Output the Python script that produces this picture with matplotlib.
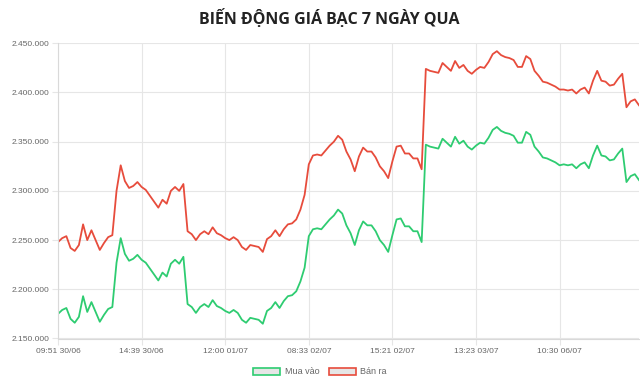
import matplotlib.pyplot as plt
from matplotlib.patches import Patch
from matplotlib.ticker import FuncFormatter

# Giá bạc 7 ngày (đồng/lượng)
ban_ra = [
    2248, 2252, 2254, 2242, 2239, 2245, 2266, 2250, 2260, 2250,
    2240, 2247, 2253, 2255, 2300, 2326, 2310, 2303, 2305, 2309,
    2304, 2301, 2295, 2289, 2283, 2291, 2287, 2300, 2304, 2300,
    2307, 2259, 2256, 2250, 2256, 2259, 2256, 2263, 2257, 2255,
    2252, 2250, 2253, 2250, 2243, 2240, 2245, 2244, 2243, 2238,
    2251, 2254, 2260, 2254, 2261, 2266, 2267, 2271, 2281, 2296,
    2327, 2336, 2337, 2336, 2341, 2346, 2350, 2356, 2352, 2340,
    2332, 2320, 2335, 2344, 2340, 2340, 2334, 2325, 2320, 2313,
    2330, 2345, 2346, 2338, 2338, 2333, 2333, 2322, 2424, 2422,
    2421, 2420, 2430, 2426, 2422, 2432, 2425, 2428, 2422, 2419,
    2423, 2426, 2425, 2431, 2439, 2442, 2438, 2436, 2435, 2433,
    2426, 2426, 2437, 2434, 2422, 2417, 2411, 2410, 2408, 2406,
    2403, 2403, 2402, 2403, 2399, 2403, 2405, 2399, 2412, 2422,
    2412, 2411, 2407, 2408, 2414, 2419, 2385, 2391, 2393, 2387,
]
mua_vao = [
    2175, 2179, 2181, 2170, 2166, 2172, 2193, 2177, 2187, 2177,
    2167, 2174, 2180, 2182, 2227, 2252, 2236, 2229, 2231, 2235,
    2230, 2227, 2221, 2215, 2209, 2217, 2213, 2226, 2230, 2226,
    2233, 2185, 2182, 2176, 2182, 2185, 2182, 2189, 2183, 2181,
    2178, 2176, 2179, 2176, 2169, 2166, 2171, 2170, 2169, 2165,
    2178, 2181, 2187, 2181, 2188, 2193, 2194, 2198, 2208, 2222,
    2254, 2261, 2262, 2261, 2266, 2271, 2275, 2281, 2277, 2265,
    2257, 2245, 2260, 2269, 2265, 2265, 2259, 2250, 2245, 2238,
    2255, 2271, 2272, 2264, 2264, 2259, 2259, 2248, 2347, 2345,
    2344, 2343, 2353, 2349, 2345, 2355, 2348, 2351, 2345, 2342,
    2346, 2349, 2348, 2354, 2362, 2365, 2361, 2359, 2358, 2356,
    2349, 2349, 2360, 2357, 2345, 2340, 2334, 2333, 2331, 2329,
    2326, 2327, 2326, 2327, 2323, 2327, 2329, 2323, 2336, 2346,
    2336, 2335, 2331, 2332, 2338, 2343, 2309, 2315, 2317, 2311,
]
nhan_x = ["09:51 30/06", "14:39 30/06", "12:00 01/07", "08:33 02/07",
          "15:21 02/07", "13:23 03/07", "10:30 06/07"]
buoc_nhan = 20

ban_ra = [v * 1000 for v in ban_ra]
mua_vao = [v * 1000 for v in mua_vao]
x = list(range(len(ban_ra)))

xanh = '#2ecc71'
do = '#e74c3c'
luoi = '#e6e6e6'

fig = plt.figure(figsize=(6.4, 3.86), dpi=100)
ax = fig.add_axes([58 / 640, 1 - 338.5 / 386, 581 / 640, 295.2 / 386])

ax.plot(x, mua_vao, color=xanh, lw=1.3)
ax.plot(x, ban_ra, color=do, lw=1.3)

ax.set_xlim(0, len(x) - 1)
ax.set_ylim(2150000, 2450000)
ax.set_yticks(range(2150000, 2450001, 50000))
ax.yaxis.set_major_formatter(FuncFormatter(lambda v, p: f"{int(v):,}".replace(',', '.')))
ax.set_xticks(x[::buoc_nhan][:len(nhan_x)])
ax.set_xticklabels(nhan_x)

ax.grid(True, color=luoi, lw=0.8)
ax.set_axisbelow(True)
for s in ['top', 'right']:
    ax.spines[s].set_visible(False)
for s in ['left', 'bottom']:
    ax.spines[s].set_color('#d9d9d9')
    ax.spines[s].set_linewidth(0.8)
ax.tick_params(length=4.5, width=0.8, color=luoi, labelsize=6, labelcolor='#666666', pad=2)
for t in ax.get_xticklabels() + ax.get_yticklabels():
    t.set_fontfamily('Liberation Sans')

fig.text(0.515, 0.953, "BIẾN ĐỘNG GIÁ BẠC 7 NGÀY QUA", ha='center', va='center',
         fontsize=11.5, fontweight='bold', family='Open Sans', color='#222222')

tay_cam = [Patch(facecolor='#e6e6e6', edgecolor=xanh, lw=1.2, label='Mua vào'),
           Patch(facecolor='#e6e6e6', edgecolor=do, lw=1.2, label='Bán ra')]
fig.legend(handles=tay_cam, loc='center', bbox_to_anchor=(0.5, 1 - 372 / 386), ncol=2,
           frameon=False, handlelength=3.0, handleheight=0.9, handletextpad=0.5,
           columnspacing=1.0, prop={'family': 'Liberation Sans', 'size': 6.5},
           labelcolor='#666666')

fig.savefig('out.png', dpi=100)
